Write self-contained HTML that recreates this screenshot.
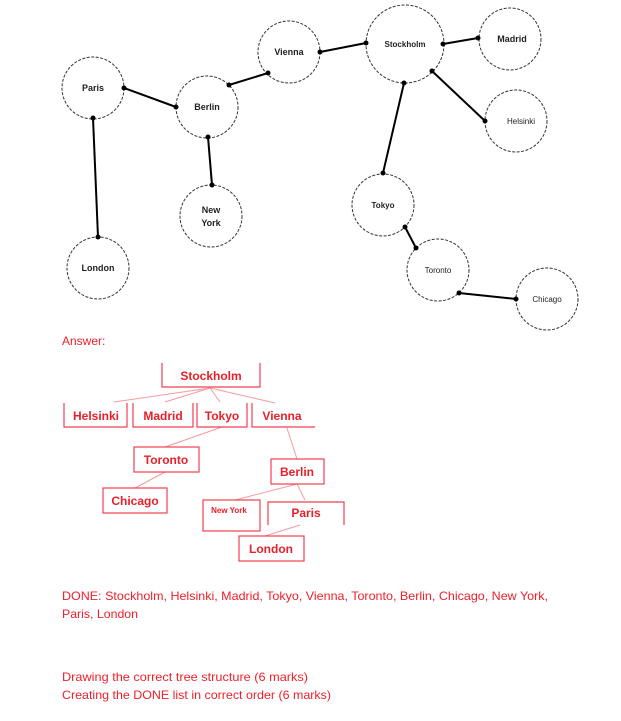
<!DOCTYPE html>
<html><head><meta charset="utf-8"><style>
html,body{margin:0;padding:0;background:#fff}
svg{display:block}
.c{fill:#fff;stroke:#333;stroke-width:1;stroke-dasharray:3,1.5}
.e{stroke:#000;stroke-width:2}
.n{font-family:"Liberation Sans",sans-serif;font-size:9px;font-weight:bold;fill:#222;text-anchor:middle}
.r{font-family:"Liberation Sans",sans-serif;font-size:12px;font-weight:bold;fill:#e8202a;text-anchor:middle}
.b{fill:none;stroke:#f04050;stroke-width:1.2}
.l{stroke:#f59aa0;stroke-width:1}
.t{font-family:"Liberation Sans",sans-serif;font-size:12px;fill:#f0202a}
</style></head><body>
<svg width="621" height="721" viewBox="0 0 621 721" xmlns="http://www.w3.org/2000/svg">
<g class="e">
<line x1="320" y1="52" x2="366" y2="43"/><line x1="443" y1="44" x2="478" y2="38"/>
<line x1="432" y1="71" x2="485" y2="121"/><line x1="404" y1="83" x2="383" y2="173"/>
<line x1="405" y1="227" x2="416" y2="248"/><line x1="459" y1="293" x2="516" y2="299"/>
<line x1="268" y1="73" x2="229" y2="85"/><line x1="124" y1="88" x2="176" y2="107"/>
<line x1="93" y1="118" x2="98" y2="237"/><line x1="208" y1="137" x2="212" y2="185"/>
</g>
<circle class="c" cx="93" cy="88" r="31"/><circle class="c" cx="207" cy="107" r="31"/>
<circle class="c" cx="289" cy="52" r="31"/><circle class="c" cx="211" cy="216" r="31"/>
<circle class="c" cx="98" cy="268" r="31"/><circle class="c" cx="405" cy="44" r="39"/>
<circle class="c" cx="510" cy="39" r="31"/><circle class="c" cx="516" cy="121" r="31"/>
<circle class="c" cx="383" cy="205" r="31"/><circle class="c" cx="438" cy="270" r="31"/>
<circle class="c" cx="547" cy="299" r="31"/>
<g fill="#000">
<circle cx="320" cy="52" r="2.5"/><circle cx="366" cy="43" r="2.5"/><circle cx="443" cy="44" r="2.5"/><circle cx="478" cy="38" r="2.5"/>
<circle cx="432" cy="71" r="2.5"/><circle cx="485" cy="121" r="2.5"/><circle cx="404" cy="83" r="2.5"/><circle cx="383" cy="173" r="2.5"/>
<circle cx="405" cy="227" r="2.5"/><circle cx="416" cy="248" r="2.5"/><circle cx="459" cy="293" r="2.5"/><circle cx="516" cy="299" r="2.5"/>
<circle cx="268" cy="73" r="2.5"/><circle cx="229" cy="85" r="2.5"/><circle cx="124" cy="88" r="2.5"/><circle cx="176" cy="107" r="2.5"/>
<circle cx="93" cy="118" r="2.5"/><circle cx="98" cy="237" r="2.5"/><circle cx="208" cy="137" r="2.5"/><circle cx="212" cy="185" r="2.5"/>
</g>
<text class="n" x="93" y="91">Paris</text><text class="n" x="207" y="110">Berlin</text>
<text class="n" x="289" y="55">Vienna</text><text class="n" x="211" y="213">New</text><text class="n" x="211" y="226">York</text>
<text class="n" x="98" y="271">London</text><text class="n" x="405" y="47" style="font-size:8px">Stockholm</text>
<text class="n" x="512" y="42">Madrid</text><text class="n" x="521" y="124" style="font-size:8px;font-weight:normal">Helsinki</text>
<text class="n" x="383" y="208" style="font-size:8px">Tokyo</text><text class="n" x="438" y="273" style="font-size:8px;font-weight:normal">Toronto</text>
<text class="n" x="547" y="302" style="font-size:8px;font-weight:normal">Chicago</text>

<text class="t" x="62" y="345">Answer:</text>
<g class="l">
<line x1="210" y1="388" x2="114" y2="402"/><line x1="210" y1="388" x2="165" y2="402"/>
<line x1="210" y1="388" x2="220" y2="402"/><line x1="210" y1="388" x2="275" y2="403"/>
<line x1="222" y1="427" x2="165" y2="447"/><line x1="165" y1="472" x2="135" y2="488"/>
<line x1="287" y1="428" x2="297" y2="459"/><line x1="297" y1="484" x2="235" y2="500"/>
<line x1="297" y1="484" x2="305" y2="500"/><line x1="300" y1="525" x2="265" y2="536"/>
</g>
<g class="b">
<path d="M162 363V387H260V363"/><path d="M64 403V427H127V403"/><path d="M133 403V427H193V403"/>
<path d="M197 403V427H247V403"/><path d="M252 403V427H315"/>
<rect x="134" y="447" width="65" height="25"/><rect x="271" y="459" width="53" height="25"/>
<rect x="103" y="488" width="64" height="25"/><rect x="203" y="500" width="57" height="31"/>
<path d="M268 525V502H344V525"/><rect x="239" y="536" width="65" height="25"/>
</g>
<text class="r" x="211" y="380">Stockholm</text><text class="r" x="96" y="420">Helsinki</text>
<text class="r" x="163" y="420">Madrid</text><text class="r" x="222" y="420">Tokyo</text>
<text class="r" x="282" y="420">Vienna</text><text class="r" x="166" y="464">Toronto</text>
<text class="r" x="297" y="476">Berlin</text><text class="r" x="135" y="505">Chicago</text>
<text class="r" x="229" y="513" style="font-size:8px">New York</text><text class="r" x="306" y="517">Paris</text>
<text class="r" x="271" y="553">London</text>

<text class="t" x="62" y="600" textLength="486" lengthAdjust="spacingAndGlyphs">DONE: Stockholm, Helsinki, Madrid, Tokyo, Vienna, Toronto, Berlin, Chicago, New York,</text>
<text class="t" x="62" y="618" textLength="76" lengthAdjust="spacingAndGlyphs">Paris, London</text>
<text class="t" x="62" y="681" textLength="246" lengthAdjust="spacingAndGlyphs">Drawing the correct tree structure (6 marks)</text>
<text class="t" x="62" y="699" textLength="269" lengthAdjust="spacingAndGlyphs">Creating the DONE list in correct order (6 marks)</text>
</svg>
</body></html>
